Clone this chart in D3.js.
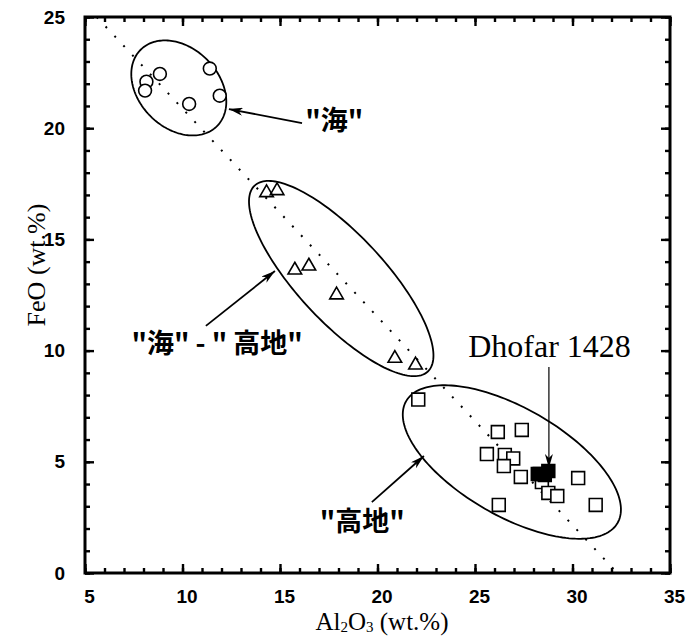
<!DOCTYPE html>
<html>
<head>
<meta charset="utf-8">
<script src="https://cdn.jsdelivr.net/npm/d3@7"></script>
<style>
  body { margin: 0; background: #fff; }
  svg { display: block; }
</style>
</head>
<body>
<div id="chart"></div>
<script>
// mare (circles)
const mareAl = [8.15, 8.08, 8.84, 10.34, 11.40, 11.91];
const mareFe = [22.09, 21.69, 22.44, 21.09, 22.68, 21.46];
// mare - highland (triangles)
const mixAl = [14.31, 14.85, 15.76, 16.48, 17.90, 20.89, 21.95];
const mixFe = [17.10, 17.19, 13.62, 13.80, 12.50, 9.65, 9.35];
// highland (squares)
const highAl = [22.09, 26.17, 27.40, 25.61, 26.53, 26.96, 26.48, 27.35, 28.43, 28.76, 29.22, 30.29, 26.22, 31.19, 28.32];
const highFe = [7.80, 6.34, 6.43, 5.35, 5.31, 5.15, 4.81, 4.32, 4.09, 3.60, 3.46, 4.27, 3.06, 3.06, 4.45];
// Dhofar 1428 (filled squares)
const dhofarAl = [28.22, 28.58, 28.76];
const dhofarFe = [4.45, 4.41, 4.59];

// trend line
const trendAl = [5.6, 32.3];
const trendFe = [25, 0];

// group ellipses: centre, semi-axis a, semi-axis b (data units)
const ellCentre = [[9.81, 21.81], [18.14, 13.24], [26.89, 4.99]];
const ellAxisA = [[1.958, -1.717], [4.44, -4.18], [5.42, -2.74]];
const ellAxisB = [[1.450, 1.272], [1.63, 1.34], [1.385, 2.10]];

// labels and arrows (data units)
const labelText = ['"海"', '"海" - " 高地"', '"高地"'];
const labelPos = [[16.29, 20.37], [7.38, 10.34], [17.04, 2.34]];
const arrowFrom = [[16.13, 20.23], [11.20, 11.11], [19.71, 3.19]];
const arrowTo = [[12.38, 20.86], [14.74, 13.58], [22.38, 5.26]];
const dhofarLabel = "Dhofar 1428";
const dhofarLabelPos = [24.65, 9.7];
const dhofarArrow = [[28.79, 9.26], [28.79, 4.72]];

const xMajor = [5, 10, 15, 20, 25, 30, 35];
const yMajor = [0, 5, 10, 15, 20, 25];
const xMinor = d3.range(5, 36, 1);
const yMinor = d3.range(0, 26, 1);

const W = 689, H = 640;
const svg = d3.select("#chart").append("svg").attr("width", W).attr("height", H);

const x = d3.scaleLinear().domain([5, 35]).range([85, 670]);
const y = d3.scaleLinear().domain([0, 25]).range([573, 17]);

const defs = svg.append("defs");
defs.append("marker")
    .attr("id", "head")
    .attr("viewBox", "0 0 14 8")
    .attr("refX", 14).attr("refY", 4)
    .attr("markerWidth", 14).attr("markerHeight", 8)
    .attr("markerUnits", "userSpaceOnUse")
    .attr("orient", "auto")
    .append("path")
    .attr("d", "M0,0 L14,4 L0,8 L4,4 Z")
    .style("fill", "#000");
defs.append("clipPath").attr("id", "plot")
    .append("rect")
    .attr("x", x(5)).attr("y", y(25))
    .attr("width", x(35) - x(5)).attr("height", y(0) - y(25));

// ticks
function tickAxis(axis, size, labels) {
    return axis.tickSize(-size).tickFormat(labels ? d3.format("d") : "");
}
const tickStyle = g => {
    g.select(".domain").remove();
    g.selectAll(".tick line").style("stroke", "#000").style("stroke-width", 2.4);
    g.selectAll(".tick text")
        .style("font-family", "'Liberation Sans', Arial, sans-serif")
        .style("font-size", "19px")
        .style("font-weight", "bold")
        .style("fill", "#000");
};
svg.append("g").attr("transform", `translate(0,${y(0)})`)
    .call(tickAxis(d3.axisBottom(x).tickValues(xMinor), 5, false)).call(tickStyle);
svg.append("g").attr("transform", `translate(0,${y(0)})`)
    .call(tickAxis(d3.axisBottom(x).tickValues(xMajor), 9, true).tickPadding(17)).call(tickStyle)
    .selectAll(".tick text").attr("dx", 4);
svg.append("g").attr("transform", `translate(0,${y(25)})`)
    .call(tickAxis(d3.axisTop(x).tickValues(xMinor), 5, false)).call(tickStyle);
svg.append("g").attr("transform", `translate(0,${y(25)})`)
    .call(tickAxis(d3.axisTop(x).tickValues(xMajor), 9, false)).call(tickStyle);
svg.append("g").attr("transform", `translate(${x(5)},0)`)
    .call(tickAxis(d3.axisLeft(y).tickValues(yMinor), 5, false)).call(tickStyle);
svg.append("g").attr("transform", `translate(${x(5)},0)`)
    .call(tickAxis(d3.axisLeft(y).tickValues(yMajor), 9, true).tickPadding(20)).call(tickStyle);
svg.append("g").attr("transform", `translate(${x(35)},0)`)
    .call(tickAxis(d3.axisRight(y).tickValues(yMinor), 5, false)).call(tickStyle);
svg.append("g").attr("transform", `translate(${x(35)},0)`)
    .call(tickAxis(d3.axisRight(y).tickValues(yMajor), 9, false)).call(tickStyle);

// frame
svg.append("rect")
    .attr("x", x(5)).attr("y", y(25))
    .attr("width", x(35) - x(5)).attr("height", y(0) - y(25))
    .style("fill", "none").style("stroke", "#000").style("stroke-width", 3);

// dotted trend line
svg.append("line")
    .attr("clip-path", "url(#plot)")
    .attr("x1", x(trendAl[0])).attr("y1", y(trendFe[0]))
    .attr("x2", x(trendAl[1])).attr("y2", y(trendFe[1]))
    .style("stroke", "#000").style("stroke-width", 2)
    .style("stroke-dasharray", "2,11");

// ellipses
const ellLine = d3.line().x(d => x(d[0])).y(d => y(d[1])).curve(d3.curveLinearClosed);
ellCentre.forEach((c, i) => {
    const a = ellAxisA[i], b = ellAxisB[i];
    const pts = d3.range(0, 2 * Math.PI, Math.PI / 90).map(t => [
        c[0] + a[0] * Math.cos(t) + b[0] * Math.sin(t),
        c[1] + a[1] * Math.cos(t) + b[1] * Math.sin(t)
    ]);
    svg.append("path").attr("d", ellLine(pts))
        .style("fill", "none").style("stroke", "#000").style("stroke-width", 1.8);
});

// markers
const mark = (xs, ys, type, size, fill) => {
    const sym = d3.symbol().type(type).size(size);
    svg.append("g").selectAll("path")
        .data(xs.map((v, i) => [v, ys[i]]))
        .join("path")
        .attr("transform", d => `translate(${x(d[0])},${y(d[1])})`)
        .attr("d", sym)
        .style("fill", fill).style("stroke", "#000").style("stroke-width", 1.6);
};
mark(mareAl, mareFe, d3.symbolCircle, 130, "#fff");
mark(mixAl, mixFe, d3.symbolTriangle, 80, "none");
mark(highAl, highFe, d3.symbolSquare, 165, "#fff");
mark(dhofarAl, dhofarFe, d3.symbolSquare, 165, "#000");

// group labels + arrows
labelText.forEach((t, i) => {
    svg.append("text")
        .attr("x", x(labelPos[i][0])).attr("y", y(labelPos[i][1]))
        .attr("dy", "0.36em")
        .attr("xml:space", "preserve")
        .style("font-family", "'Noto Sans CJK JP', 'Noto Sans', sans-serif")
        .style("font-size", "27px")
        .style("font-weight", "bold")
        .text(t);
    svg.append("line")
        .attr("x1", x(arrowFrom[i][0])).attr("y1", y(arrowFrom[i][1]))
        .attr("x2", x(arrowTo[i][0])).attr("y2", y(arrowTo[i][1]))
        .attr("marker-end", "url(#head)")
        .style("stroke", "#000").style("stroke-width", 1.8);
});

svg.append("text")
    .attr("x", x(dhofarLabelPos[0])).attr("y", y(dhofarLabelPos[1]))
    .style("font-family", "'Liberation Serif', 'Times New Roman', serif")
    .style("font-size", "32px")
    .text(dhofarLabel);
svg.append("line")
    .attr("x1", x(dhofarArrow[0][0])).attr("y1", y(dhofarArrow[0][1]))
    .attr("x2", x(dhofarArrow[1][0])).attr("y2", y(dhofarArrow[1][1]))
    .attr("marker-end", "url(#head)")
    .style("stroke", "#000").style("stroke-width", 1.2);

// axis titles
const xt = svg.append("text")
    .attr("x", 382).attr("y", 630)
    .attr("text-anchor", "middle")
    .style("font-family", "'Liberation Serif', 'Times New Roman', serif")
    .style("font-size", "25px");
xt.append("tspan").text("Al");
xt.append("tspan").attr("font-size", "15px").attr("dy", 2).text("2");
xt.append("tspan").attr("dy", -2).text("O");
xt.append("tspan").attr("font-size", "15px").attr("dy", 2).text("3");
xt.append("tspan").attr("dy", -2).text(" (wt.%)");

svg.append("text")
    .attr("transform", `translate(45,265) rotate(-90)`)
    .attr("text-anchor", "middle")
    .style("font-family", "'Liberation Serif', 'Times New Roman', serif")
    .style("font-size", "26px")
    .text("FeO (wt.%)");
</script>
</body>
</html>
